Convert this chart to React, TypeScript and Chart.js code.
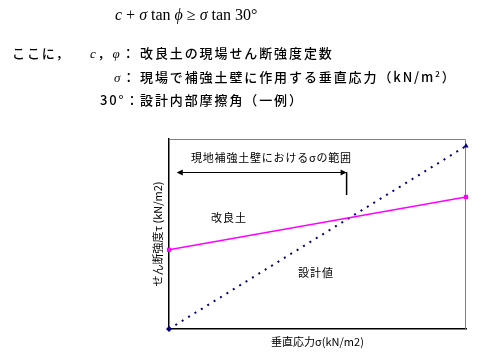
import React, { useEffect, useRef } from "react";
import { Chart, registerables } from "chart.js";

Chart.register(...registerables);

// ---- data ----
const xRange = [0, 10];
const yRange = [0, 100];
const designX = [0, 10];
const designY = [0, 96.3];
const soilX = [0, 10];
const soilY = [41.7, 69.5];
// range arrow (data coordinates)
const arrowX = [0.26, 5.98];
const arrowY = 82.7;
const arrowDropY = 70.5;

const xTitle = "垂直応力σ(kN/m2)";
const yTitle = "せん断強度τ (kN/m2)";
const arrowLabel = "現地補強土壁におけるσの範囲";
const soilLabel = "改良土";
const designLabel = "設計値";

const FONT = "'Noto Sans CJK JP', 'Noto Sans', sans-serif";

const frameAndArrow = {
  id: "frameAndArrow",
  beforeDatasetsDraw(chart: any) {
    const { ctx, chartArea, scales } = chart;
    ctx.save();
    // gray top/right frame
    ctx.strokeStyle = "#808080";
    ctx.lineWidth = 1;
    ctx.beginPath();
    ctx.moveTo(chartArea.left, chartArea.top + 0.5);
    ctx.lineTo(chartArea.right - 0.5, chartArea.top + 0.5);
    ctx.lineTo(chartArea.right - 0.5, chartArea.bottom);
    ctx.stroke();
    // arrow
    const x0 = scales.x.getPixelForValue(arrowX[0]);
    const x1 = scales.x.getPixelForValue(arrowX[1]);
    const y = Math.round(scales.y.getPixelForValue(arrowY)) + 0.5;
    const y2 = scales.y.getPixelForValue(arrowDropY);
    ctx.strokeStyle = "#000";
    ctx.fillStyle = "#000";
    ctx.lineWidth = 1;
    ctx.beginPath();
    ctx.moveTo(x0 + 4, y);
    ctx.lineTo(x1 - 4, y);
    ctx.stroke();
    ctx.lineWidth = 1.5;
    ctx.beginPath();
    ctx.moveTo(x1, y - 0.5);
    ctx.lineTo(x1, y2);
    ctx.stroke();
    // heads
    ctx.beginPath();
    ctx.moveTo(x0, y);
    ctx.lineTo(x0 + 6, y - 3);
    ctx.lineTo(x0 + 6, y + 3);
    ctx.closePath();
    ctx.fill();
    ctx.beginPath();
    ctx.moveTo(x1, y);
    ctx.lineTo(x1 - 6, y - 3);
    ctx.lineTo(x1 - 6, y + 3);
    ctx.closePath();
    ctx.fill();
    ctx.restore();
  },
};

export default function App() {
  const ref = useRef<HTMLCanvasElement | null>(null);

  useEffect(() => {
    document.body.style.margin = "0";
    const canvas = ref.current;
    if (!canvas) return;
    const chart = new Chart(canvas, {
      type: "scatter",
      data: {
        datasets: [
          {
            label: "改良土",
            data: soilX.map((x, i) => ({ x, y: soilY[i] })),
            showLine: true,
            clip: false,
            borderColor: "#ff00ff",
            backgroundColor: "#ff00ff",
            borderWidth: 1.5,
            pointStyle: "rect",
            pointRadius: 3,
            pointBorderWidth: 0,
          },
          {
            label: "設計値",
            data: designX.map((x, i) => ({ x, y: designY[i] })),
            showLine: true,
            clip: false,
            borderColor: "#000080",
            backgroundColor: "#000080",
            borderWidth: 2,
            borderDash: [2, 5.5],
            pointStyle: ["rectRot", "triangle"],
            pointRadius: 3,
            pointBorderWidth: 0,
          },
        ],
      },
      options: {
        responsive: false,
        animation: false,
        events: [],
        layout: { padding: { left: 150, right: 20, top: 139, bottom: 8 } },
        plugins: { legend: { display: false }, tooltip: { enabled: false } },
        scales: {
          x: {
            type: "linear",
            min: xRange[0],
            max: xRange[1],
            ticks: { display: false },
            grid: { display: false },
            border: { display: true, color: "#000", width: 1.5 },
            afterFit: (s: any) => {
              s.height = 19;
            },
            title: {
              display: true,
              text: xTitle,
              color: "#000",
              font: { family: FONT, size: 11 },
              padding: { top: 0, bottom: 0 },
            },
          },
          y: {
            type: "linear",
            min: yRange[0],
            max: yRange[1],
            ticks: { display: false },
            grid: { display: false },
            border: { display: true, color: "#000", width: 1.5 },
            afterFit: (s: any) => {
              s.width = 19;
            },
            title: {
              display: true,
              text: yTitle,
              color: "#000",
              font: { family: FONT, size: 11 },
              padding: { top: 1, bottom: 0 },
            },
          },
        },
      },
      plugins: [frameAndArrow],
    } as any);
    return () => chart.destroy();
  }, []);

  const jp: React.CSSProperties = {
    position: "absolute",
    fontFamily: FONT,
    fontSize: 13,
    fontWeight: 500,
    letterSpacing: "1.9px",
    color: "#000",
    whiteSpace: "nowrap",
    lineHeight: "16px",
  };
  const small: React.CSSProperties = {
    position: "absolute",
    fontFamily: FONT,
    fontSize: 11,
    color: "#000",
    whiteSpace: "nowrap",
    lineHeight: "14px",
  };
  const serif: React.CSSProperties = {
    fontFamily: "'Liberation Serif', 'DejaVu Serif', serif",
    fontStyle: "italic",
  };

  return (
    <div
      style={{
        position: "absolute",
        left: 0,
        top: 0,
        width: 486,
        height: 356,
        background: "#fff",
        overflow: "hidden",
      }}
    >
      <canvas ref={ref} width={486} height={356} style={{ position: "absolute", left: 0, top: 0 }} />

      <div
        style={{
          position: "absolute",
          left: 115,
          top: 5,
          fontFamily: "'Liberation Serif', 'DejaVu Serif', serif",
          fontSize: 16,
          lineHeight: "20px",
          whiteSpace: "nowrap",
          color: "#000",
        }}
      >
        <i>c</i> + <i>σ</i> tan <i>ϕ</i> ≥ <i>σ</i> tan 30°
      </div>

      <div style={{ ...jp, left: 12, top: 45 }}>ここに，</div>
      <div style={{ ...jp, left: 90, top: 45 }}>
        <span style={serif}>c</span>，<span style={serif}>φ</span>：
      </div>
      <div style={{ ...jp, left: 140, top: 45 }}>改良土の現場せん断強度定数</div>

      <div style={{ ...jp, left: 114, top: 69 }}>
        <span style={serif}>σ</span>：
      </div>
      <div style={{ ...jp, left: 140, top: 69 }}>
        現場で補強土壁に作用する垂直応力（kN/m<sup style={{ fontSize: 8, lineHeight: 0 }}>2</sup>）
      </div>

      <div style={{ ...jp, left: 100, top: 92 }}>30°：</div>
      <div style={{ ...jp, left: 140, top: 92 }}>設計内部摩擦角（一例）</div>

      <div style={{ ...small, left: 191, top: 150, letterSpacing: "0.8px" }}>{arrowLabel}</div>
      <div style={{ ...small, left: 211, top: 210, letterSpacing: "1px" }}>{soilLabel}</div>
      <div style={{ ...small, left: 298, top: 265, letterSpacing: "1px" }}>{designLabel}</div>
    </div>
  );
}
